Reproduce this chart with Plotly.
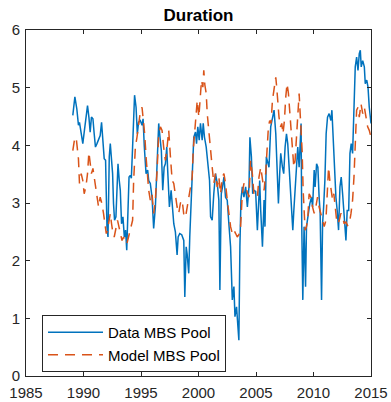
import plotly.graph_objects as go

# Data MBS Pool (duration)
data_years = [1989.07, 1989.25, 1989.42, 1989.56, 1989.65, 1989.80, 1989.94, 1990.08, 1990.23, 1990.35,
              1990.47, 1990.58, 1990.69, 1990.82, 1990.93, 1991.04, 1991.17, 1991.31, 1991.45, 1991.57,
              1991.69, 1991.80, 1991.92, 1992.04, 1992.13, 1992.24, 1992.33, 1992.44, 1992.53, 1992.61,
              1992.70, 1992.82, 1992.91, 1993.00, 1993.11, 1993.20, 1993.31, 1993.43, 1993.55, 1993.66,
              1993.76, 1993.96, 1994.07, 1994.16, 1994.27, 1994.36, 1994.44, 1994.57, 1994.68, 1994.79,
              1994.94, 1995.09, 1995.18, 1995.29, 1995.44, 1995.58, 1995.67, 1995.81, 1995.96, 1996.10,
              1996.25, 1996.40, 1996.54, 1996.66, 1996.77, 1996.89, 1997.01, 1997.12, 1997.24, 1997.32,
              1997.47, 1997.62, 1997.71, 1997.85, 1997.99, 1998.14, 1998.23, 1998.37, 1998.54, 1998.63,
              1998.72, 1998.81, 1998.93, 1999.01, 1999.15, 1999.24, 1999.36, 1999.48, 1999.59, 1999.74,
              1999.83, 1999.94, 2000.06, 2000.17, 2000.32, 2000.41, 2000.52, 2000.67, 2000.81, 2000.96,
              2001.05, 2001.19, 2001.33, 2001.48, 2001.63, 2001.77, 2001.86, 2001.98, 2002.09, 2002.21,
              2002.35, 2002.50, 2002.64, 2002.79, 2002.94, 2003.08, 2003.17, 2003.31, 2003.43, 2003.51,
              2003.60, 2003.69, 2003.81, 2003.95, 2004.10, 2004.25, 2004.39, 2004.47, 2004.60, 2004.71,
              2004.82, 2004.97, 2005.12, 2005.21, 2005.32, 2005.41, 2005.56, 2005.70, 2005.78, 2005.90,
              2006.02, 2006.13, 2006.28, 2006.43, 2006.57, 2006.72, 2006.86, 2006.95, 2007.06, 2007.15,
              2007.30, 2007.41, 2007.53, 2007.65, 2007.76, 2007.88, 2008.00, 2008.11, 2008.20, 2008.29,
              2008.40, 2008.52, 2008.63, 2008.75, 2008.84, 2008.92, 2008.98, 2009.07, 2009.18, 2009.31,
              2009.39, 2009.53, 2009.68, 2009.83, 2009.92, 2010.06, 2010.14, 2010.27, 2010.38, 2010.49,
              2010.58, 2010.70, 2010.79, 2010.88, 2010.99, 2011.10, 2011.22, 2011.36, 2011.51, 2011.60,
              2011.71, 2011.83, 2011.95, 2012.06, 2012.18, 2012.30, 2012.41, 2012.53, 2012.67, 2012.82,
              2012.93, 2013.06, 2013.17, 2013.28, 2013.40, 2013.52, 2013.63, 2013.75, 2013.87, 2013.98,
              2014.07, 2014.15, 2014.28, 2014.42, 2014.50, 2014.63, 2014.74, 2014.85, 2015.00]
data_values = [4.52, 4.84, 4.63, 4.35, 4.40, 4.20, 4.03, 4.26, 4.49, 4.69,
               4.49, 4.23, 4.49, 4.46, 4.20, 3.97, 4.03, 4.09, 4.17, 4.40,
               4.09, 3.77, 3.74, 2.59, 2.41, 3.80, 4.03, 3.74, 3.51, 2.99,
               2.70, 2.76, 3.16, 3.68, 3.39, 3.22, 2.64, 2.76, 2.41, 2.53,
               2.18, 3.45, 3.48, 3.43, 3.97, 4.66, 4.87, 4.66, 4.20, 4.40,
               4.43, 4.35, 4.46, 3.97, 3.51, 3.57, 3.39, 3.34, 3.10, 2.56,
               2.93, 3.68, 4.38, 4.12, 3.91, 3.22, 3.62, 3.68, 3.97, 3.57,
               2.93, 3.22, 2.93, 2.64, 2.50, 2.10, 2.41, 2.47, 2.45, 2.41,
               2.35, 1.37, 2.24, 2.12, 1.78, 2.41, 3.05, 3.51, 4.14, 4.23,
               4.03, 4.32, 4.09, 4.38, 4.09, 4.38, 4.14, 3.97, 3.74, 3.39,
               2.76, 2.70, 3.16, 3.51, 3.34, 3.05, 1.49, 3.16, 3.28, 3.45,
               3.10, 3.05, 2.64, 2.24, 1.32, 1.55, 1.03, 1.20, 0.85, 0.62,
               2.24, 3.05, 3.28, 3.10, 3.28, 2.93, 3.28, 4.14, 3.80, 3.16,
               3.22, 3.20, 2.53, 3.10, 3.39, 2.87, 2.24, 3.05, 2.59, 3.80,
               3.68, 3.62, 4.32, 4.49, 4.61, 4.20, 3.51, 2.99, 3.51, 3.86,
               3.62, 3.51, 3.97, 4.20, 4.03, 3.62, 3.05, 2.82, 2.53, 2.87,
               3.22, 3.62, 3.97, 3.62, 3.91, 4.38, 2.59, 1.32, 2.59, 1.55,
               2.59, 2.82, 2.99, 3.10, 2.93, 3.57, 3.28, 3.68, 3.62, 3.10,
               2.82, 1.32, 2.64, 2.93, 3.39, 4.20, 4.49, 4.55, 4.43, 4.61,
               4.09, 3.39, 3.10, 2.87, 2.53, 3.28, 3.45, 3.16, 2.76, 2.35,
               2.87, 2.87, 3.86, 4.03, 3.86, 4.66, 5.36, 5.53, 5.30, 5.59,
               5.65, 5.36, 5.47, 5.36, 5.07, 5.13, 5.01, 4.66, 4.38]

# Model MBS Pool (duration)
model_years = [1989.07, 1989.21, 1989.36, 1989.47, 1989.56, 1989.65, 1989.80, 1989.94, 1990.06, 1990.21,
               1990.35, 1990.47, 1990.58, 1990.69, 1990.82, 1990.93, 1991.04, 1991.17, 1991.31, 1991.45,
               1991.60, 1991.74, 1991.86, 1991.98, 1992.09, 1992.21, 1992.33, 1992.44, 1992.56, 1992.67,
               1992.82, 1992.96, 1993.08, 1993.20, 1993.35, 1993.49, 1993.63, 1993.78, 1993.92, 1994.07,
               1994.16, 1994.27, 1994.36, 1994.51, 1994.65, 1994.79, 1994.94, 1995.09, 1995.23, 1995.32,
               1995.44, 1995.53, 1995.67, 1995.81, 1995.96, 1996.10, 1996.25, 1996.40, 1996.54, 1996.69,
               1996.83, 1996.97, 1997.12, 1997.27, 1997.41, 1997.56, 1997.71, 1997.85, 1997.99, 1998.14,
               1998.28, 1998.43, 1998.58, 1998.72, 1998.87, 1999.01, 1999.15, 1999.30, 1999.45, 1999.54,
               1999.65, 1999.76, 1999.89, 2000.03, 2000.17, 2000.26, 2000.38, 2000.46, 2000.55, 2000.67,
               2000.76, 2000.90, 2001.05, 2001.19, 2001.33, 2001.48, 2001.63, 2001.77, 2001.92, 2002.07,
               2002.21, 2002.35, 2002.50, 2002.64, 2002.79, 2002.94, 2003.08, 2003.23, 2003.37, 2003.51,
               2003.66, 2003.81, 2003.95, 2004.10, 2004.25, 2004.39, 2004.53, 2004.68, 2004.82, 2004.97,
               2005.12, 2005.26, 2005.41, 2005.56, 2005.70, 2005.84, 2005.99, 2006.08, 2006.19, 2006.31,
               2006.43, 2006.57, 2006.72, 2006.80, 2006.92, 2007.00, 2007.13, 2007.24, 2007.35, 2007.47,
               2007.59, 2007.70, 2007.82, 2007.94, 2008.05, 2008.17, 2008.29, 2008.40, 2008.52, 2008.63,
               2008.75, 2008.84, 2008.92, 2009.01, 2009.10, 2009.18, 2009.27, 2009.39, 2009.51, 2009.62,
               2009.77, 2009.92, 2010.06, 2010.20, 2010.35, 2010.49, 2010.64, 2010.79, 2010.93, 2011.08,
               2011.22, 2011.31, 2011.42, 2011.54, 2011.66, 2011.77, 2011.89, 2012.01, 2012.12, 2012.24,
               2012.38, 2012.53, 2012.67, 2012.82, 2012.97, 2013.11, 2013.26, 2013.40, 2013.52, 2013.63,
               2013.75, 2013.87, 2013.98, 2014.13, 2014.28, 2014.42, 2014.56, 2014.71, 2014.85, 2015.00]
model_values = [3.91, 4.09, 4.14, 3.97, 3.77, 3.34, 3.51, 3.39, 3.16, 3.28,
                3.51, 3.88, 3.62, 3.51, 3.60, 3.45, 3.22, 3.10, 2.93, 3.10,
                2.99, 2.82, 2.64, 2.47, 2.53, 2.70, 2.82, 2.64, 2.47, 2.41,
                2.59, 2.70, 2.59, 2.47, 2.35, 2.41, 2.30, 2.30, 2.41, 2.55,
                2.59, 2.70, 3.39, 3.97, 4.14, 4.32, 4.58, 4.66, 4.43, 4.20,
                3.80, 3.51, 3.22, 3.05, 3.16, 2.82, 3.05, 3.57, 4.20, 4.32,
                4.26, 3.97, 3.74, 3.97, 4.26, 3.80, 3.39, 3.34, 3.10, 2.93,
                2.82, 3.00, 3.05, 2.80, 2.75, 2.93, 3.05, 3.28, 3.45, 3.91,
                4.20, 4.55, 4.78, 4.49, 4.84, 5.13, 5.01, 5.30, 5.05, 4.90,
                4.55, 4.20, 3.86, 3.62, 3.34, 3.51, 3.28, 3.45, 3.16, 3.45,
                3.51, 3.34, 3.05, 2.82, 2.59, 2.47, 2.53, 2.47, 2.41, 2.45,
                2.59, 3.16, 3.34, 3.28, 3.16, 3.10, 3.74, 3.51, 3.16, 3.16,
                3.10, 3.45, 3.62, 3.39, 3.22, 3.51, 4.03, 4.32, 4.43, 4.38,
                4.78, 4.95, 5.18, 5.01, 4.66, 4.49, 4.32, 4.38, 4.20, 4.43,
                4.84, 5.07, 4.90, 4.61, 4.26, 3.91, 3.62, 3.74, 4.09, 4.49,
                4.90, 4.55, 4.26, 3.91, 3.22, 2.82, 2.53, 2.59, 2.76, 3.16,
                3.10, 2.93, 2.82, 2.93, 3.10, 2.93, 2.82, 2.70, 2.59, 2.70,
                3.39, 3.62, 3.39, 3.16, 3.05, 3.16, 2.87, 2.70, 2.64, 2.70,
                2.82, 2.76, 2.64, 2.67, 2.61, 2.64, 2.82, 3.05, 3.45, 4.09,
                4.61, 4.66, 4.49, 4.72, 4.55, 4.66, 4.49, 4.32, 4.26, 4.14]

series_names = ["Data MBS Pool", "Model MBS Pool"]
x_ticks = [1985, 1990, 1995, 2000, 2005, 2010, 2015]
y_ticks = [0, 1, 2, 3, 4, 5, 6]
title_text = "Duration"

AX = "#262626"
FONT = "Liberation Sans, Arial, sans-serif"

fig = go.Figure()
fig.add_trace(go.Scatter(x=data_years, y=data_values, mode="lines", name=series_names[0],
                         line=dict(color="#0072BD", width=1.5)))
fig.add_trace(go.Scatter(x=model_years, y=model_values, mode="lines", name=series_names[1],
                         line=dict(color="#D95319", width=1.5, dash="10px,7px")))

axis_common = dict(showline=True, linecolor=AX, linewidth=1, mirror="ticks",
                   ticks="inside", ticklen=4, tickwidth=1, tickcolor=AX,
                   showgrid=False, zeroline=False, automargin=False,
                   tickfont=dict(family=FONT, size=15, color=AX))

fig.update_layout(
    width=391, height=402,
    margin=dict(l=26, r=20, t=30, b=26, autoexpand=False),
    paper_bgcolor="white", plot_bgcolor="white",
    title=dict(text=title_text, x=0.5, xref="paper", y=0.963, yref="container",
               xanchor="center", yanchor="middle", automargin=False,
               font=dict(family=FONT, size=17, color="black", weight="bold")),
    xaxis=dict(range=[1985, 2015], tickvals=x_ticks, ticktext=[str(t) for t in x_ticks],
               ticklabelstandoff=3, **axis_common),
    yaxis=dict(range=[0, 6], tickvals=y_ticks, ticktext=[str(t) for t in y_ticks],
               ticklabelstandoff=2, **axis_common),
    showlegend=True,
    legend=dict(x=0.0464, y=0.1763, xanchor="left", yanchor="top",
                bgcolor="white", bordercolor=AX, borderwidth=1,
                font=dict(family=FONT, size=15, color="black"),
                itemwidth=55, tracegroupgap=0),
)

fig.write_html("out.html")
